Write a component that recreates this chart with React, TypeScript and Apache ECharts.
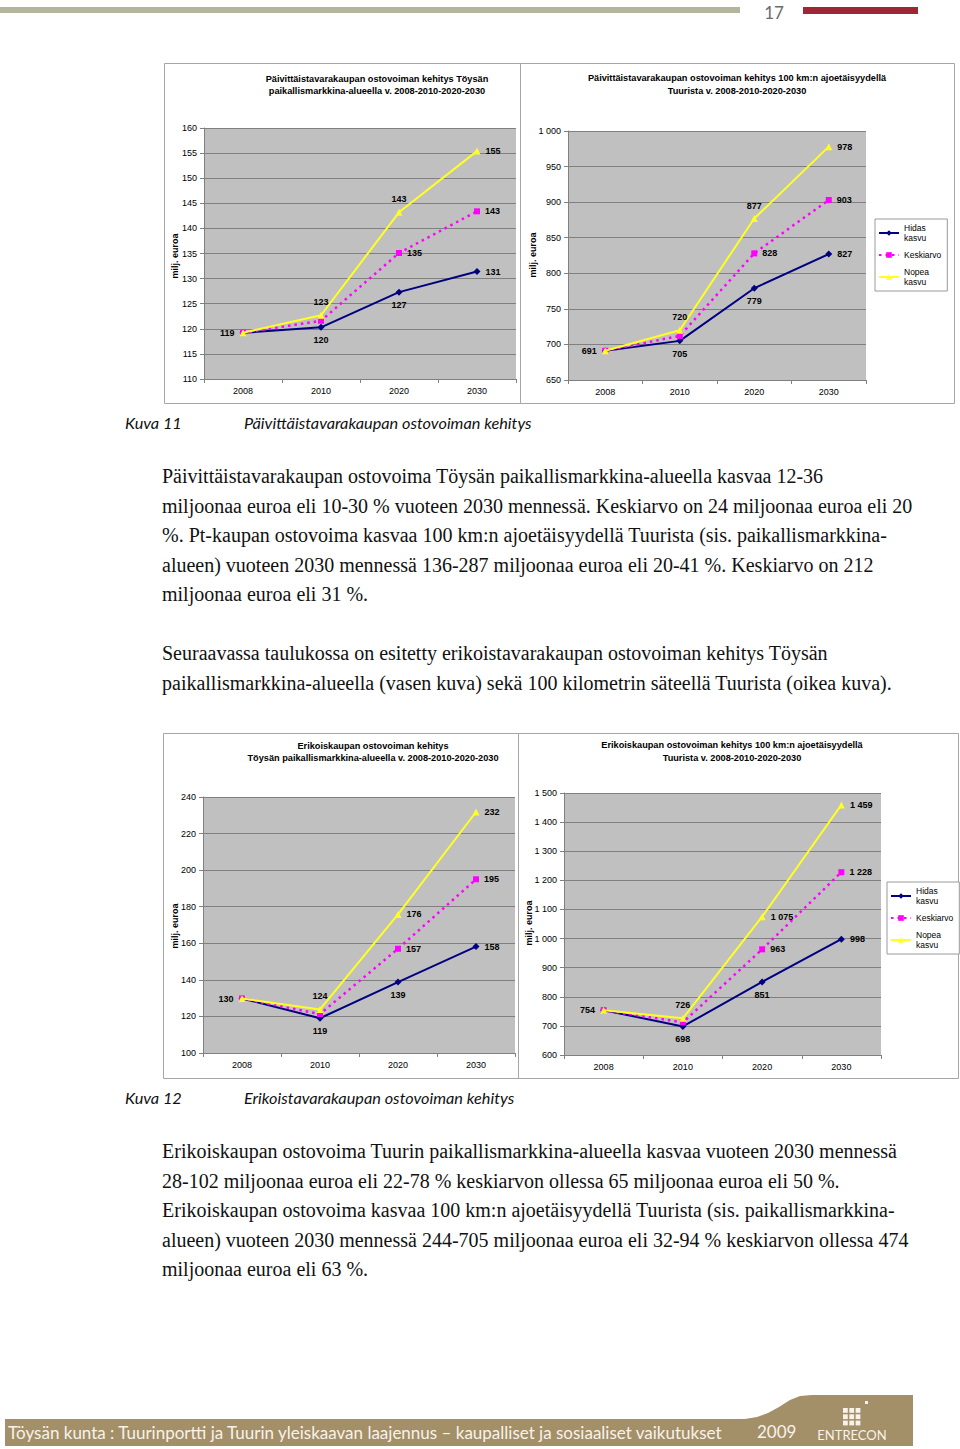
import React, { useEffect, useRef } from 'react';
import * as echarts from 'echarts';

// ---------- data ----------
const years = ['2008', '2010', '2020', '2030'];
const seriesNames = ['Hidas kasvu', 'Keskiarvo', 'Nopea kasvu'];

// Kuva 11, left: Töysän paikallismarkkina-alue (päivittäistavarat)
const ptLocalHidas = [119.2, 120.3, 127.3, 131.4];
const ptLocalKesk = [119.2, 121.6, 135.1, 143.4];
const ptLocalNopea = [119.2, 122.7, 143.2, 155.4];

// Kuva 11, right: 100 km Tuurista (päivittäistavarat)
const ptRegionHidas = [691, 705, 779, 827];
const ptRegionKesk = [691, 712, 828, 903];
const ptRegionNopea = [691, 720, 877, 978];

// Kuva 12, left: Töysän paikallismarkkina-alue (erikoiskauppa)
const erLocalHidas = [129.8, 119, 138.8, 158.2];
const erLocalKesk = [129.8, 121.3, 157, 195];
const erLocalNopea = [129.8, 123.8, 175.8, 231.8];

// Kuva 12, right: 100 km Tuurista (erikoiskauppa)
const erRegionHidas = [754, 698, 851, 998];
const erRegionKesk = [754, 712, 963, 1228];
const erRegionNopea = [754, 726, 1075, 1459];

const chartTitles = [
  'Päivittäistavarakaupan ostovoiman kehitys Töysän\npaikallismarkkina-alueella v. 2008-2010-2020-2030',
  'Päivittäistavarakaupan ostovoiman kehitys 100 km:n ajoetäisyydellä\nTuurista v. 2008-2010-2020-2030',
  'Erikoiskaupan ostovoiman kehitys\nTöysän paikallismarkkina-alueella v. 2008-2010-2020-2030',
  'Erikoiskaupan ostovoiman kehitys 100 km:n ajoetäisyydellä\nTuurista v. 2008-2010-2020-2030',
];
const yAxisName = 'milj. euroa';

const para1 = [
  'Päivittäistavarakaupan ostovoima Töysän paikallismarkkina-alueella kasvaa 12-36',
  'miljoonaa euroa eli 10-30 % vuoteen 2030 mennessä. Keskiarvo on 24 miljoonaa euroa eli 20',
  '%. Pt-kaupan ostovoima kasvaa 100 km:n ajoetäisyydellä Tuurista (sis. paikallismarkkina-',
  'alueen) vuoteen 2030 mennessä 136-287 miljoonaa euroa eli 20-41 %. Keskiarvo on 212',
  'miljoonaa euroa eli 31 %.',
];
const para2 = [
  'Seuraavassa taulukossa on esitetty erikoistavarakaupan ostovoiman kehitys Töysän',
  'paikallismarkkina-alueella (vasen kuva) sekä 100 kilometrin säteellä Tuurista (oikea kuva).',
];
const para3 = [
  'Erikoiskaupan ostovoima Tuurin paikallismarkkina-alueella kasvaa vuoteen 2030 mennessä',
  '28-102 miljoonaa euroa eli 22-78 % keskiarvon ollessa 65 miljoonaa euroa eli 50 %.',
  'Erikoiskaupan ostovoima kasvaa 100 km:n ajoetäisyydellä Tuurista (sis. paikallismarkkina-',
  'alueen) vuoteen 2030 mennessä 244-705 miljoonaa euroa eli 32-94 % keskiarvon ollessa 474',
  'miljoonaa euroa eli 63 %.',
];
const caption11 = ['Kuva 11', 'Päivittäistavarakaupan ostovoiman kehitys'];
const caption12 = ['Kuva 12', 'Erikoistavarakaupan ostovoiman kehitys'];
const footerText =
  'Töysän kunta : Tuurinportti ja Tuurin yleiskaavan laajennus – kaupalliset ja sosiaaliset vaikutukset';
const footerYear = '2009';
const footerLogo = 'ENTRECON';
const pageNumber = '17';

// ---------- layout / style ----------
const COLORS = ['#000080', '#ff00ff', '#ffff22'];
const SYMBOLS = ['diamond', 'rect', 'triangle'];
const AXIS_FONT = 'Liberation Sans';
const BODY_FONT = 'Liberation Serif';
const SANS_FONT = 'Lato';

const chartSpecs = [
  {
    grid: { left: 204, top: 128, width: 312, height: 251 },
    min: 110, max: 160, interval: 5,
    series: [ptLocalHidas, ptLocalKesk, ptLocalNopea],
    pos: [
      ['left', 'bottom', 'bottom', 'right'],
      [null, null, 'right', 'right'],
      [null, 'top', 'top', 'right'],
    ],
    title: { x: 377, y: 85 },
    yName: { x: 175, y: 256 },
    box: { x: 164, y: 63, w: 356, h: 340 },
  },
  {
    grid: { left: 568, top: 131, width: 298, height: 249 },
    min: 650, max: 1000, interval: 50,
    series: [ptRegionHidas, ptRegionKesk, ptRegionNopea],
    pos: [
      ['left', 'bottom', 'bottom', 'right'],
      [null, null, 'right', 'right'],
      [null, 'top', 'top', 'right'],
    ],
    title: { x: 737, y: 84.5 },
    yName: { x: 533, y: 255 },
    box: { x: 520, y: 63, w: 434, h: 340 },
    legend: { left: 875, top: 219 },
  },
  {
    grid: { left: 203, top: 797, width: 312, height: 256 },
    min: 100, max: 240, interval: 20,
    series: [erLocalHidas, erLocalKesk, erLocalNopea],
    pos: [
      ['left', 'bottom', 'bottom', 'right'],
      [null, null, 'right', 'right'],
      [null, 'top', 'right', 'right'],
    ],
    title: { x: 373, y: 752 },
    yName: { x: 175, y: 926 },
    box: { x: 163, y: 733, w: 355, h: 345 },
  },
  {
    grid: { left: 564, top: 793, width: 317, height: 262 },
    min: 600, max: 1500, interval: 100,
    series: [erRegionHidas, erRegionKesk, erRegionNopea],
    pos: [
      ['left', 'bottom', 'bottom', 'right'],
      [null, null, 'right', 'right'],
      [null, 'top', 'right', 'right'],
    ],
    title: { x: 732, y: 751.5 },
    yName: { x: 529, y: 923 },
    box: { x: 518, y: 733, w: 440, h: 345 },
    legend: { left: 887, top: 882 },
  },
];

const fmtNum = (n: number) => String(n).replace(/\B(?=(\d{3})+(?!\d))/g, ' ');

function buildOption() {
  const grids: any[] = [];
  const xAxes: any[] = [];
  const yAxes: any[] = [];
  const series: any[] = [];
  const legends: any[] = [];
  const graphics: any[] = [];

  chartSpecs.forEach((c, i) => {
    grids.push({
      ...c.grid,
      show: true,
      backgroundColor: '#c0c0c0',
      borderWidth: 0,
      containLabel: false,
    });
    xAxes.push({
      gridIndex: i,
      type: 'category',
      data: years,
      boundaryGap: true,
      axisLine: { show: true, lineStyle: { color: '#808080', width: 1 } },
      axisTick: { show: true, length: 4, lineStyle: { color: '#808080' } },
      axisLabel: { color: '#000', fontSize: 9, fontFamily: AXIS_FONT, margin: 7 },
      splitLine: { show: false },
    });
    yAxes.push({
      gridIndex: i,
      type: 'value',
      min: c.min,
      max: c.max,
      interval: c.interval,
      axisLine: { show: true, lineStyle: { color: '#808080', width: 1 } },
      axisTick: { show: true, length: 4, lineStyle: { color: '#808080' } },
      axisLabel: {
        color: '#000', fontSize: 9, fontFamily: AXIS_FONT, margin: 7,
        formatter: (v: number) => fmtNum(v),
      },
      splitLine: { show: true, lineStyle: { color: '#808080', width: 1 } },
    });
    c.series.forEach((vals, s) => {
      series.push({
        type: 'line',
        name: seriesNames[s],
        xAxisIndex: i,
        yAxisIndex: i,
        symbol: SYMBOLS[s],
        symbolSize: s === 1 ? 6 : 7,
        z: 2 + s,
        lineStyle: {
          color: COLORS[s],
          width: s === 1 ? 2.5 : 2,
          type: s === 1 ? [2.5, 4] : 'solid',
        },
        itemStyle: { color: COLORS[s] },
        label: {
          fontSize: 9,
          fontWeight: 'bold',
          fontFamily: AXIS_FONT,
          color: '#000',
          distance: 5,
          formatter: (p: any) => fmtNum(Math.round(p.value)),
        },
        data: vals.map((v, k) => {
          const p = c.pos[s][k];
          return {
            value: v,
            label: p ? { show: true, position: p } : { show: false },
          };
        }),
      });
    });
    if (c.legend) {
      legends.push({
        orient: 'vertical',
        left: c.legend.left,
        top: c.legend.top,
        data: seriesNames,
        selectedMode: false,
        formatter: (n: string) => n.replace(' ', '\n'),
        itemWidth: 20,
        itemHeight: 7,
        itemGap: 7,
        padding: [4, 6, 4, 3],
        borderColor: '#9a9a9a',
        borderWidth: 1,
        backgroundColor: '#fff',
        textStyle: { fontSize: 8.5, fontFamily: AXIS_FONT, color: '#000', lineHeight: 10 },
      });
    }
    graphics.push({
      type: 'rect',
      shape: { x: c.box.x + 0.5, y: c.box.y + 0.5, width: c.box.w, height: c.box.h },
      style: { fill: 'none', stroke: '#a6a6a6', lineWidth: 1 },
      z: -1,
    });
    graphics.push({
      type: 'text',
      x: c.title.x,
      y: c.title.y,
      style: {
        text: chartTitles[i],
        align: 'center',
        verticalAlign: 'middle',
        fontSize: 9.2,
        lineHeight: 12.5,
        fontWeight: 'bold',
        fontFamily: AXIS_FONT,
        fill: '#000',
      },
    });
    graphics.push({
      type: 'text',
      x: c.yName.x,
      y: c.yName.y,
      rotation: Math.PI / 2,
      style: {
        text: yAxisName,
        align: 'center',
        verticalAlign: 'middle',
        fontSize: 9,
        fontWeight: 'bold',
        fontFamily: AXIS_FONT,
        fill: '#000',
      },
    });
  });

  // header
  graphics.push({ type: 'rect', shape: { x: 0, y: 7, width: 740, height: 6 }, style: { fill: '#b3b59c' } });
  graphics.push({
    type: 'text', x: 774, y: 12,
    style: { text: pageNumber, align: 'center', verticalAlign: 'middle', fontSize: 17, fontFamily: SANS_FONT, fill: '#6b6b6b' },
  });
  graphics.push({ type: 'rect', shape: { x: 803, y: 7, width: 115, height: 7 }, style: { fill: '#9e2635' } });

  // captions
  const captionStyle = { fontSize: 16.3, fontStyle: 'italic', fontFamily: SANS_FONT, fill: '#111', verticalAlign: 'middle' };
  [[caption11, 422], [caption12, 1097]].forEach(([cap, y]: any) => {
    graphics.push({ type: 'text', x: 125, y, style: { ...captionStyle, text: cap[0] } });
    graphics.push({ type: 'text', x: 244, y, style: { ...captionStyle, text: cap[1] } });
  });

  // paragraphs
  const bodyStyle = { fontSize: 20, fontFamily: BODY_FONT, fill: '#111', verticalAlign: 'middle' };
  const addPara = (lines: string[], y0: number) =>
    lines.forEach((t, k) => {
      graphics.push({ type: 'text', x: 162, y: y0 + k * 29.6, style: { ...bodyStyle, text: t } });
    });
  addPara(para1, 476);
  addPara(para2, 653);
  addPara(para3, 1151);

  // footer band
  graphics.push({
    type: 'polygon',
    shape: {
      points: [
        [5, 1419], [745, 1419], [757, 1417], [768, 1413], [779, 1407], [790, 1400],
        [800, 1396], [812, 1395], [913, 1395], [913, 1446], [5, 1446],
      ],
    },
    style: { fill: '#a38f68' },
  });
  graphics.push({
    type: 'text', x: 8, y: 1432,
    style: { text: footerText, fontSize: 17, fontFamily: SANS_FONT, fill: '#f7f3ea', verticalAlign: 'middle' },
  });
  graphics.push({
    type: 'text', x: 757, y: 1431,
    style: { text: footerYear, fontSize: 17, fontFamily: SANS_FONT, fill: '#f7f3ea', verticalAlign: 'middle' },
  });
  graphics.push({
    type: 'text', x: 852, y: 1435,
    style: { text: footerLogo, fontSize: 13, fontFamily: SANS_FONT, fill: '#f7f3ea', align: 'center', verticalAlign: 'middle' },
  });
  for (let r = 0; r < 3; r++) {
    for (let q = 0; q < 3; q++) {
      graphics.push({
        type: 'rect',
        shape: { x: 843 + q * 6.3, y: 1408 + r * 6.3, width: 4.8, height: 4.8 },
        style: { fill: '#f7f3ea' },
      });
    }
  }
  graphics.push({ type: 'rect', shape: { x: 865, y: 1401, width: 3, height: 3 }, style: { fill: '#f7f3ea' } });

  return {
    animation: false,
    backgroundColor: '#ffffff',
    grid: grids,
    xAxis: xAxes,
    yAxis: yAxes,
    legend: legends,
    series,
    graphic: graphics,
  };
}

export default function App() {
  const ref = useRef<HTMLDivElement>(null);
  useEffect(() => {
    if (!ref.current) return;
    const chart = echarts.init(ref.current, undefined, { renderer: 'svg' });
    chart.setOption(buildOption() as any);
    return () => chart.dispose();
  }, []);
  return (
    <div
      ref={ref}
      style={{ position: 'absolute', left: 0, top: 0, width: 960, height: 1449, background: '#fff' }}
    />
  );
}
